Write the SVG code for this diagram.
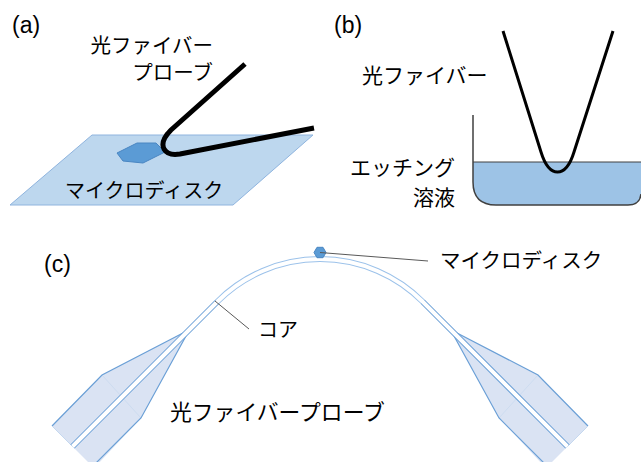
<svg xmlns="http://www.w3.org/2000/svg" xmlns:xlink="http://www.w3.org/1999/xlink" width="641" height="462" viewBox="0 0 641 462">
  <style>
    .jp { font-family: "Noto Sans CJK JP", "Noto Sans", sans-serif; fill: #000; }
    .tag { font-family: "Liberation Sans", Arial, sans-serif; font-size: 23px; fill: #000; }
    .leader { stroke: #595959; stroke-width: 1; fill: none; }
    .wire { stroke: #000; fill: none; }
    .jacket { fill: #dae3f3; stroke: none; }
    .jacket-edge { fill: none; stroke: #6a9fd6; stroke-width: 1.2; }
    .disk { fill: #5b9bd5; stroke: #4a86c2; stroke-width: 1; }
  </style>
  <defs>
    <!-- one tapered probe end (left side); the right side is its mirror image -->
    <g id="probe-left">
      <polygon class="jacket" points="183,333 102,375 52,426 92,466 96,466 141,418 186,336"/>
      <line x1="102" y1="375" x2="141" y2="418" stroke="#cddcf0" stroke-width="1"/>
      <polyline class="jacket-edge" points="183,333 102,375 52,426"/>
      <polyline class="jacket-edge" points="186,336 141,418 96,463"/>
      <line x1="52" y1="426" x2="72" y2="446" stroke="#c5d8ef" stroke-width="1"/>
    </g>
  </defs>

  <!-- panel (a): fibre probe touching a microdisk on a substrate -->
  <g id="panel-a">
    <text class="tag" x="12" y="33">(a)</text>
    <g id="substrate">
      <polygon points="92,135 313,135 233,205 10,205" fill="#bdd7ee" stroke="#8fb4de" stroke-width="1"/>
    </g>
    <g id="disk-a">
      <polygon class="disk" points="117,153 137,143 156,143 165,152 143,163 123,161"/>
    </g>
    <g id="probe-a">
      <path class="wire" stroke-width="5" d="M245,64 L171,130 Q160,141 164,149 Q168,156 180,154 L314,128"/>
    </g>
    <g id="label-a-probe">
      <text class="jp" x="213" y="52.5" font-size="20.5" text-anchor="end">光ファイバー</text>
      <text class="jp" x="213" y="80" font-size="20.5" text-anchor="end">プローブ</text>
    </g>
    <g id="label-a-disk">
      <text class="jp" x="65" y="198" font-size="20">マイクロディスク</text>
    </g>
  </g>

  <!-- panel (b): fibre dipped into etching solution -->
  <g id="panel-b">
    <text class="tag" x="334" y="33">(b)</text>
    <g id="beaker">
      <path d="M473,162 L641,162 L641,194 Q640,205 628,205 L496,205 Q473,205 473,182 Z" fill="#9dc3e6"/>
      <line x1="473" y1="162" x2="641" y2="162" stroke="#404040" stroke-width="1"/>
      <path d="M473,115 L473,182 Q473,205 496,205 L628,205 Q640,205 641,194" fill="none" stroke="#404040" stroke-width="1.5"/>
    </g>
    <g id="fiber-b">
      <path class="wire" stroke-width="3" d="M503,31 L541,152 C545,165 550,172 557.5,172 C565,172 570,165 574,152 L613,31"/>
    </g>
    <g id="label-b-fiber">
      <text class="jp" x="362" y="83" font-size="21">光ファイバー</text>
    </g>
    <g id="label-b-solution">
      <text class="jp" x="455" y="175" font-size="21" text-anchor="end">エッチング</text>
      <text class="jp" x="455" y="205" font-size="21" text-anchor="end">溶液</text>
    </g>
  </g>

  <!-- panel (c): bent tapered fibre carrying a microdisk -->
  <g id="panel-c">
    <text class="tag" x="44" y="272">(c)</text>
    <g id="probe-c-left">
      <use xlink:href="#probe-left"/>
    </g>
    <g id="probe-c-right">
      <use xlink:href="#probe-left" transform="translate(640,0) scale(-1,1)"/>
    </g>
    <g id="fiber-c">
      <!-- straight tapered legs -->
      <path d="M72.5,446.5 L217.5,301.5 M422.5,301.5 L567.5,446.5" fill="none" stroke="#6a9fd6" stroke-width="6"/>
      <!-- thin bent section -->
      <path d="M217.5,301.5 A145,145 0 0 1 422.5,301.5" fill="none" stroke="#9cc2ea" stroke-width="6"/>
      <path d="M72.5,446.5 L217.5,301.5 A145,145 0 0 1 422.5,301.5 L567.5,446.5" fill="none" stroke="#ffffff" stroke-width="4"/>
    </g>
    <g id="disk-c">
      <polygon class="disk" points="314,252.5 317,247.3 323,247.3 326,252.5 323,257.7 317,257.7"/>
    </g>
    <g id="connectors">
      <line class="leader" x1="320" y1="252.5" x2="428" y2="261"/>
      <line class="leader" x1="215" y1="301" x2="249" y2="329"/>
    </g>
    <g id="label-c-disk">
      <text class="jp" x="440" y="268" font-size="20.5">マイクロディスク</text>
    </g>
    <g id="label-c-core">
      <text class="jp" x="258" y="337" font-size="20">コア</text>
    </g>
    <g id="label-c-probe">
      <text class="jp" x="170" y="420" font-size="21.8">光ファイバープローブ</text>
    </g>
  </g>
</svg>
